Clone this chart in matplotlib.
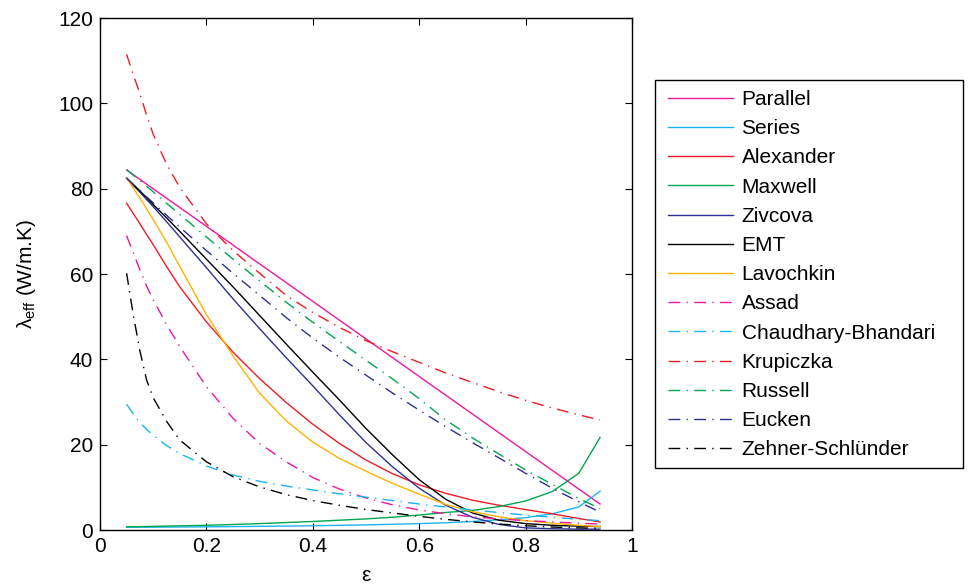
import matplotlib.pyplot as plt
from matplotlib.patches import Rectangle

plt.rcParams['font.family'] = ['Liberation Sans', 'DejaVu Sans']
plt.rcParams['mathtext.fontset'] = 'custom'
plt.rcParams['mathtext.rm'] = 'Liberation Sans'
plt.rcParams['mathtext.it'] = 'Liberation Sans'

eps = [0.05, 0.0625, 0.075, 0.0875, 0.1, 0.125, 0.15, 0.2, 0.25, 0.3, 0.35, 0.4,
       0.45, 0.5, 0.55, 0.6, 0.65, 0.7, 0.75, 0.8, 0.85, 0.9, 0.94]

parallel = [84.4, 83.3, 82.2, 81.1, 80.0, 77.8, 75.6, 71.2, 66.8, 62.4, 58.0, 53.6,
            49.2, 44.8, 40.4, 36.0, 31.6, 27.2, 22.8, 18.4, 14.0, 9.6, 6.1]
series = [0.65, 0.65, 0.66, 0.66, 0.67, 0.69, 0.71, 0.75, 0.80, 0.86, 0.93, 1.0,
          1.1, 1.2, 1.35, 1.5, 1.7, 2.0, 2.4, 2.9, 3.8, 5.4, 9.1]
alexander = [76.6, 74.2, 71.8, 69.3, 66.9, 61.8, 57.0, 48.8, 41.7, 35.5, 29.9, 24.8,
             20.3, 16.4, 13.2, 10.6, 8.6, 7.0, 5.8, 4.8, 3.8, 2.7, 1.9]
maxwell = [0.75, 0.77, 0.79, 0.82, 0.85, 0.92, 0.98, 1.1, 1.3, 1.5, 1.75, 2.0,
           2.3, 2.6, 3.0, 3.5, 4.1, 4.6, 5.5, 6.8, 9.0, 13.3, 21.7]
zivcova = [82.5, 80.8, 79.2, 77.5, 75.8, 72.3, 68.7, 61.5, 54.2, 47.2, 40.4, 33.8,
           27.0, 20.5, 14.8, 9.8, 5.8, 3.0, 1.3, 0.5, 0.3, 0.2, 0.2]
emt = [82.5, 81.0, 79.5, 77.9, 76.3, 73.2, 70.0, 63.5, 57.0, 50.3, 43.6, 37.0,
       30.5, 23.8, 17.6, 11.8, 7.2, 4.0, 2.3, 1.5, 1.1, 0.9, 0.8]
lavochkin = [82.5, 80.2, 77.8, 75.3, 72.8, 67.5, 61.8, 50.5, 40.8, 32.1, 25.6, 20.6,
             16.8, 13.8, 10.9, 8.4, 6.0, 4.3, 3.1, 2.2, 1.6, 1.1, 0.8]
assad = [69.0, 65.0, 61.0, 57.2, 54.0, 48.2, 43.0, 33.6, 26.2, 20.3, 16.0, 12.3,
         9.6, 7.5, 5.9, 4.7, 3.8, 3.1, 2.6, 2.2, 1.9, 1.6, 1.4]
chaudhary = [29.5, 27.2, 25.2, 23.6, 22.2, 19.8, 17.9, 15.0, 12.9, 11.4, 10.3, 9.4,
             8.5, 7.7, 6.9, 6.1, 5.4, 4.7, 4.1, 3.5, 3.0, 2.5, 2.2]
krupiczka = [111.5, 106.8, 102.3, 97.3, 92.8, 85.8, 80.3, 71.8, 65.5, 60.2, 55.0, 51.0,
             47.5, 44.4, 41.8, 39.3, 36.8, 34.6, 32.4, 30.4, 28.6, 27.0, 25.8]
russell = [84.5, 83.2, 81.9, 80.6, 79.3, 76.6, 74.0, 68.7, 63.5, 58.4, 53.4, 48.7,
           44.2, 39.8, 35.4, 30.8, 25.8, 21.6, 17.8, 14.1, 10.7, 7.4, 5.0]
eucken = [82.5, 81.0, 79.6, 78.1, 76.7, 73.8, 71.0, 65.5, 60.2, 55.0, 49.8, 45.0,
          40.5, 36.3, 32.1, 28.1, 24.2, 20.5, 16.9, 13.3, 9.8, 6.6, 4.2]
zehner = [60.2, 50.5, 42.0, 35.2, 31.0, 25.5, 21.1, 16.0, 12.5, 10.1, 8.3, 6.9,
          5.8, 4.8, 4.0, 3.2, 2.5, 1.9, 1.4, 1.0, 0.7, 0.5, 0.4]

names = ['Parallel', 'Series', 'Alexander', 'Maxwell', 'Zivcova', 'EMT', 'Lavochkin',
         'Assad', 'Chaudhary-Bhandari', 'Krupiczka', 'Russell', 'Eucken',
         'Zehner-Schl\u00fcnder']
curves = [parallel, series, alexander, maxwell, zivcova, emt, lavochkin,
          assad, chaudhary, krupiczka, russell, eucken, zehner]
colors = ['#f0179b', '#1ab4f0', '#ee1c24', '#00a651', '#2e3192', '#000000', '#ffb300',
          '#f0179b', '#1ab4f0', '#ee1c24', '#00a651', '#2e3192', '#000000']

fig = plt.figure(figsize=(9.69, 5.85), dpi=100)
ax = fig.add_axes([0.1032, 0.094, 0.549, 0.875])

for i in range(len(names)):
    if i < 7:
        ax.plot(eps, curves[i], '-', color=colors[i], linewidth=1.0, label=names[i])
    else:
        ax.plot(eps, curves[i], color=colors[i], linewidth=1.0, label=names[i],
                dashes=(8.5, 4.5, 1, 4.5))

ax.set_xlim(0, 1)
ax.set_ylim(0, 120)
ax.set_xticks([0, 0.2, 0.4, 0.6, 0.8, 1])
ax.set_xticklabels(['0', '0.2', '0.4', '0.6', '0.8', '1'])
ax.set_yticks(range(0, 121, 20))
ax.tick_params(direction='in', top=True, right=True, length=5, labelsize=15, pad=5)
for s in ax.spines.values():
    s.set_linewidth(1.0)

ax.set_xlabel('\u03b5', fontsize=15, labelpad=7)
ax.set_ylabel(r'$\lambda_{\rm eff}$ (W/m.K)', fontsize=15, labelpad=14)

# legend entries without frame, box drawn separately (wider on the right, like MATLAB)
leg = ax.legend(loc='upper left', bbox_to_anchor=(668 / 969, 1 - 90 / 585),
                bbox_transform=fig.transFigure, fontsize=15, frameon=False,
                handlelength=3.1, handletextpad=0.43, labelspacing=0.49,
                borderpad=0, borderaxespad=0)
fig.patches.append(Rectangle((655 / 969, 1 - 468 / 585), 308 / 969, 388 / 585,
                             transform=fig.transFigure, fill=False,
                             edgecolor='black', linewidth=1.0))

plt.savefig('out.png', dpi=100)
